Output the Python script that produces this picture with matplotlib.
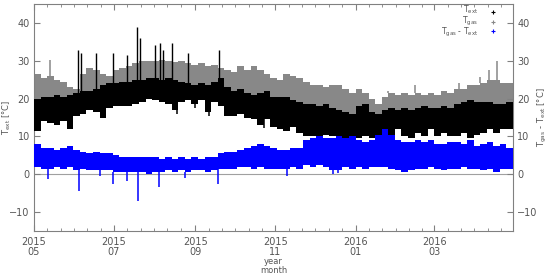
import numpy as np
import matplotlib
matplotlib.use("Agg")
import matplotlib.pyplot as plt
import matplotlib.dates as mdates
from datetime import datetime

plt.rcParams['font.family'] = ['DejaVu Sans']
plt.rcParams['mathtext.default'] = 'regular'

# ---- data: 5-day bins starting 2015-05-01 (envelopes) ----
start_date = datetime(2015, 5, 1)
bin_days = 5

tgas_high = [26.5, 25.5, 26, 25, 24.5, 23, 22.5, 26.5, 28, 27.5, 26.5, 26, 27.5, 28, 28.5, 29.5,
             30, 30, 30, 30.2, 30, 29.8, 30, 29.5, 29, 29.5, 28.5, 29, 28, 27.5, 27, 28.5,
             27.5, 28.5, 27.5, 26.5, 25.5, 25, 26.5, 26, 25.5, 24.5, 23.5, 23.5, 23, 23.5,
             23.5, 22.5, 21.5, 22.5, 21.5, 20, 18.5, 20.5, 21.5, 21, 21.5, 21, 21.5, 21,
             21.5, 21, 22, 21.5, 22.5, 22.5, 23.5, 23.5, 24, 25, 25, 24, 24]
tgas_low = [19, 19.5, 19.5, 20, 19.5, 20, 20.5, 21, 21, 21.5, 22.5, 23, 23, 23.5, 23.5, 24,
            24, 24.5, 24.5, 24, 24.5, 24, 23.5, 23, 22.5, 23, 22.5, 23.5, 24.5, 22, 21, 21.5,
            20.5, 20, 20.5, 21, 19.5, 19.5, 19.5, 18.5, 18, 17.5, 17.5, 17, 17.5, 16.5, 16,
            15.5, 15, 17, 17.5, 15.5, 15, 16, 16.5, 16, 16.5, 16, 16.5, 17, 16.5, 16.5, 17,
            16.5, 17.5, 18, 18.5, 18, 18, 18, 17.5, 17.5, 18]
text_high = [20, 20.5, 20.5, 21, 20.5, 21, 21.5, 22, 22, 22.5, 23.5, 24, 24, 24.5, 24.5, 25,
             25, 25.5, 25.5, 25, 25.5, 25, 24.5, 24, 23.5, 24, 23.5, 24.5, 25.5, 23, 22, 22.5,
             21.5, 21, 21.5, 22, 20.5, 20.5, 20.5, 19.5, 19, 18.5, 18.5, 18, 18.5, 17.5, 17,
             16.5, 16, 18, 18.5, 16.5, 16, 17, 17.5, 17, 17.5, 17, 17.5, 18, 17.5, 17.5, 18,
             17.5, 18.5, 19, 19.5, 19, 19, 19, 18.5, 18.5, 19]
text_low = [11.5, 14, 13.5, 13, 14, 12, 15.5, 16, 17, 16.5, 15, 17.5, 18, 18, 18, 18.5,
            19, 20, 19.5, 19, 18.5, 17, 19, 19.5, 18.5, 19.5, 16.5, 19, 18, 15.5, 15.5, 16,
            15, 14.5, 13, 14.5, 12.5, 12, 11.5, 12.5, 11, 10, 10, 10, 10.5, 10, 8.5, 7.5, 8,
            9.5, 10, 9.5, 10, 11, 10.5, 12, 10, 9.5, 11, 10, 12, 10, 11, 10, 10, 11, 9.5,
            10.5, 11, 12, 11, 12, 12]
diff_high = [8, 7, 7, 6.5, 7, 7.5, 6.5, 6, 5.5, 6, 5.5, 5.5, 5, 4.5, 4.5, 4.5, 4.5, 4.5,
             4.5, 4, 4.5, 4, 4.5, 4, 4.5, 4, 4.5, 4.5, 5.5, 6, 6, 6.5, 7, 7.5, 8, 7.5, 7,
             6.5, 6.5, 7, 7, 9, 9.5, 10, 9.5, 9.5, 10, 9.5, 10, 9, 8.5, 9, 10.5, 12, 10.5, 9,
             8.5, 8.5, 9, 8.5, 9, 8, 8, 8.5, 8.5, 8, 9, 7.5, 8, 8.5, 7.5, 8, 7]
diff_low = [2, 1.5, 1.5, 2, 1.5, 2, 1, 1.5, 1, 1, 1, 1, 0.5, 0.5, 0.5, 0.5, 0.5, 0, 0.5,
            0.5, 1, 0.5, 1, 0.5, 1, 1, 0.5, 1, 1.5, 1.5, 1.5, 2, 2, 1.5, 2, 1.5, 1.5, 1.5,
            1.5, 2, 1.5, 2.5, 2, 2.5, 2, 1, 1, 2, 1.5, 2, 1.5, 2, 2, 2, 1.5, 1, 0.5, 1, 1.5,
            1.5, 2, 1.5, 1, 1.5, 1.5, 2, 1.5, 1.5, 1, 1.5, 0.5, 1.5, 1.5]

# narrow excursions (day since 2015-05-01, value)
text_spike_days = [33.8, 35.6, 47, 60, 70.6, 78.8, 80.8, 92, 96, 98.6, 105, 117, 141]
text_spike_vals = [32.9, 32, 32, 32, 31.6, 38.8, 36, 34.2, 34.6, 32.9, 34.6, 32, 32.9]
text_dip_days = [17, 109, 123, 133, 167, 175]
text_dip_vals = [13, 16, 17.5, 15.5, 14.5, 12.3]
tgas_spike_days = [12, 270, 290, 324, 340, 347, 353]
tgas_spike_vals = [30.2, 21.9, 23.7, 24.2, 25.8, 27.6, 30]
diff_dip_days = [11, 34, 50, 60, 71, 79, 95, 115, 140.5, 193, 228, 232]
diff_dip_vals = [-1.3, -4.4, -0.5, -2.6, -1.8, -7, -3.5, -0.9, -2.6, -0.5, 0, 0.2]

major_ticks = [datetime(2015, 5, 1), datetime(2015, 7, 1), datetime(2015, 9, 1),
               datetime(2015, 11, 1), datetime(2016, 1, 1), datetime(2016, 3, 1)]
major_labels = ["2015\n05", "2015\n07", "2015\n09", "2015\n11", "2016\n01", "2016\n03"]
end_date = datetime(2016, 4, 30)
legend_labels = [r'T$_{ext}$', r'T$_{gas}$', r'T$_{gas}$ - T$_{ext}$']

# ---- figure ----
fig = plt.figure(figsize=(5.5, 2.77), dpi=100)
ax = fig.add_axes([34/550, 1-231/277, (513-34)/550, (231-4)/277])

t0 = mdates.date2num(start_date)
n = len(tgas_high)
edges = t0 + np.arange(n + 1) * bin_days

def band(low, high, color, z):
    lo = np.append(low, low[-1])
    hi = np.append(high, high[-1])
    ax.fill_between(edges, lo, hi, step='post', color=color, linewidth=0, zorder=z)

def bin_val(arr, day):
    return arr[min(int(day // bin_days), n - 1)]

GRAY = '#888888'
BLUE = '#0000ff'

ax.axhline(0, color='#a0a0a0', lw=0.8, zorder=1)

band(tgas_low, tgas_high, GRAY, 2)
ax.vlines([t0 + d for d in tgas_spike_days],
          [bin_val(tgas_high, d) for d in tgas_spike_days], tgas_spike_vals,
          color=GRAY, lw=1.1, zorder=2)
band(text_low, text_high, 'black', 3)
ax.vlines([t0 + d for d in text_spike_days],
          [bin_val(text_high, d) for d in text_spike_days], text_spike_vals,
          color='black', lw=1.0, zorder=3)
ax.vlines([t0 + d for d in text_dip_days], text_dip_vals,
          [bin_val(text_low, d) for d in text_dip_days],
          color='black', lw=1.1, zorder=3)
band(diff_low, diff_high, BLUE, 4)
ax.vlines([t0 + d for d in diff_dip_days], diff_dip_vals,
          [bin_val(diff_low, d) for d in diff_dip_days],
          color=BLUE, lw=1.1, zorder=4)

# axes styling (gnuplot-like)
axis_col = '#808080'
txt_col = '#555555'
ax.set_xlim(t0, mdates.date2num(end_date))
ax.set_ylim(-15, 45)
for s in ax.spines.values():
    s.set_color(axis_col)
    s.set_linewidth(0.8)

majors = [mdates.date2num(d) for d in major_ticks]
ax.set_xticks(majors)
ax.set_xticklabels(major_labels, linespacing=1.0)
step = (majors[1] - majors[0]) / 6
minors = []
for m in majors:
    for k in range(1, 6):
        v = m + k * step
        if v < mdates.date2num(end_date):
            minors.append(v)
ax.set_xticks(minors, minor=True)
ax.set_yticks(np.arange(-10, 45, 10))
ax.tick_params(axis='both', which='both', direction='in', color=axis_col,
               labelcolor=txt_col, labelsize=7, top=True)
ax.tick_params(axis='x', which='major', length=4, pad=4)
ax.tick_params(axis='x', which='minor', length=2)
ax.tick_params(axis='y', length=4, pad=3)

ax2 = ax.twinx()
ax2.set_ylim(-15, 45)
ax2.set_yticks(np.arange(-10, 45, 10))
ax2.tick_params(axis='y', direction='in', color=axis_col, labelcolor=txt_col,
                labelsize=7, length=4, pad=3)
for s in ax2.spines.values():
    s.set_visible(False)

ax.set_ylabel(r'T$_{ext}$ [°C]', color=txt_col, fontsize=6)
ax.yaxis.set_label_coords(-21/479, 0.5)
ax2.set_ylabel(r'T$_{gas}$ - T$_{ext}$ [°C]', color=txt_col, fontsize=6)
ax2.yaxis.set_label_coords(1 + 23/479, 0.5)
ax.set_xlabel('year\nmonth', color=txt_col, fontsize=6, linespacing=1.0)
ax.xaxis.set_label_coords(0.5, -(266 - 231) / 227)
ax.xaxis.label.set_va('center')

# legend (gnuplot style: right-aligned labels, '+' point markers)
fig.text(478/550, 1 - 21.5/277, "\n".join(legend_labels), ha='right', va='center',
         multialignment='right', fontsize=5.5, color=txt_col, linespacing=0.8)
leg_cols = ['black', GRAY, BLUE]
for i, col in enumerate(leg_cols):
    yy = 12 + i * 9.5
    fig.add_artist(plt.Line2D([493/550], [1 - yy/277], marker='+', markersize=3.5,
                              markeredgewidth=0.8, markeredgecolor=col, color=col,
                              linestyle='none', transform=fig.transFigure))

fig.savefig('out.png', dpi=100)
